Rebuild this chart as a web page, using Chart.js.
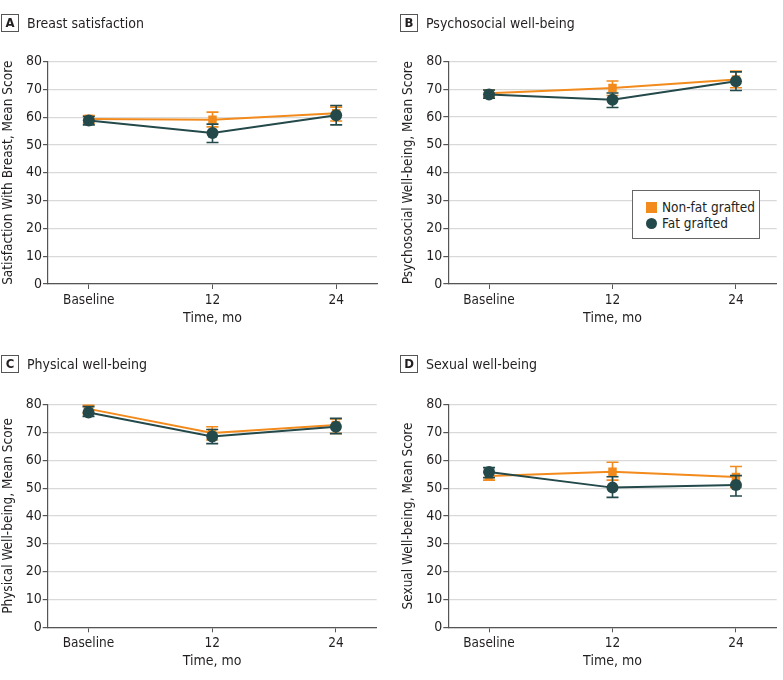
<!DOCTYPE html>
<html>
<head>
<meta charset="utf-8">
<script src="https://cdn.jsdelivr.net/npm/chart.js@4.4.1/dist/chart.umd.min.js"></script>
<style>
  body { margin: 0; background: #fff; font-family: "Liberation Sans Narrow", "DejaVu Sans Condensed", sans-serif; color: #231f20; }
  #wrap { position: relative; width: 783px; height: 680px; overflow: hidden; }
  .panel { position: absolute; }
  .panel canvas { position: absolute; left: 0; top: 0; }
  .ptitle { position: absolute; font-size: 14px; line-height: 18px; white-space: nowrap; }
  .ptitle .box { display: inline-block; width: 16px; height: 16px; border: 1px solid #555; text-align: center; font-weight: bold; font-size: 13px; line-height: 16px; margin-right: 8px; vertical-align: top; }
  #legend { position: absolute; left: 632px; top: 190px; width: 126px; height: 47px; border: 1px solid #666; background: #fff; font-size: 13.5px; }
  .leg-item { position: absolute; left: 13px; white-space: nowrap; line-height: 16px; }
  .leg-mark { display: inline-block; width: 11px; height: 11px; margin-right: 5px; vertical-align: -1px; }
</style>
</head>
<body>
<div id="wrap">
  <div class="panel" id="pA" style="left:0;top:0;width:390px;height:340px"><canvas id="cA" width="390" height="340"></canvas></div>
  <div class="panel" id="pB" style="left:390px;top:0;width:393px;height:340px"><canvas id="cB" width="393" height="340"></canvas></div>
  <div class="panel" id="pC" style="left:0;top:340px;width:390px;height:340px"><canvas id="cC" width="390" height="340"></canvas></div>
  <div class="panel" id="pD" style="left:390px;top:340px;width:393px;height:340px"><canvas id="cD" width="393" height="340"></canvas></div>
  <div class="ptitle" style="left:1px;top:14px"><span class="box">A</span>Breast satisfaction</div>
  <div class="ptitle" style="left:400px;top:14px"><span class="box">B</span>Psychosocial well-being</div>
  <div class="ptitle" style="left:1px;top:355px"><span class="box">C</span>Physical well-being</div>
  <div class="ptitle" style="left:400px;top:355px"><span class="box">D</span>Sexual well-being</div>
  <div id="legend"></div>
</div>
<script>
/* ---- DATA ---- */
const timeLabels = ['Baseline', '12', '24'];
const yTickValues = [0, 10, 20, 30, 40, 50, 60, 70, 80];
const seriesNames = ['Non-fat grafted', 'Fat grafted'];

// A  Breast satisfaction
const breastNonFat   = [59.3, 59.1, 61.4];
const breastNonFatLo = [57.8, 56.5, 58.6];
const breastNonFatHi = [60.6, 61.8, 63.6];
const breastFat      = [58.8, 54.3, 60.7];
const breastFatLo    = [57.2, 50.9, 57.2];
const breastFatHi    = [60.2, 57.5, 64.2];

// B  Psychosocial well-being
const psychNonFat   = [68.5, 70.4, 73.5];
const psychNonFatLo = [67.1, 67.7, 70.5];
const psychNonFatHi = [69.7, 72.9, 76.5];
const psychFat      = [68.1, 66.2, 72.8];
const psychFatLo    = [66.7, 63.4, 69.5];
const psychFatHi    = [69.7, 68.6, 76.2];

// C  Physical well-being
const physNonFat   = [78.5, 69.8, 72.7];
const physNonFatLo = [76.9, 67.3, 69.7];
const physNonFatHi = [79.8, 72.1, 74.9];
const physFat      = [77.2, 68.6, 72.1];
const physFatLo    = [75.8, 66.0, 69.6];
const physFatHi    = [79.3, 71.1, 75.1];

// D  Sexual well-being
const sexNonFat   = [54.4, 55.9, 54.0];
const sexNonFatLo = [52.9, 52.9, 50.3];
const sexNonFatHi = [55.7, 59.3, 57.8];
const sexFat      = [55.8, 50.2, 51.1];
const sexFatLo    = [53.8, 46.7, 47.2];
const sexFatHi    = [57.4, 54.1, 54.5];

/* ---- STYLE ---- */
const ORANGE = '#F28A1C';
const TEAL   = '#24494A';
const TEXT   = '#231f20';
const AXIS   = '#555555';
const GRID   = '#d9d9d9';
const FONT   = '"Liberation Sans Narrow", "DejaVu Sans Condensed", sans-serif';

/* ---- ERROR BARS PLUGIN ---- */
const errorBars = {
  id: 'errorBars',
  beforeDatasetDraw(chart, args) {
    const ds = chart.data.datasets[args.index];
    if (!ds.lo) return;
    const meta = args.meta;
    const ys = chart.scales.y;
    const ctx = chart.ctx;
    ctx.save();
    ctx.strokeStyle = ds.borderColor;
    ctx.lineWidth = 1.6;
    meta.data.forEach((pt, i) => {
      const x = pt.x;
      const yl = ys.getPixelForValue(ds.lo[i]);
      const yh = ys.getPixelForValue(ds.hi[i]);
      ctx.beginPath();
      ctx.moveTo(x, yl); ctx.lineTo(x, yh);
      ctx.moveTo(x - 6, yl); ctx.lineTo(x + 6, yl);
      ctx.moveTo(x - 6, yh); ctx.lineTo(x + 6, yh);
      ctx.stroke();
    });
    ctx.restore();
  }
};

function pts(arr) {
  return arr.map((v, i) => ({ x: i, y: v }));
}

function makePanel(id, yTitle, nonFat, nfLo, nfHi, fat, fLo, fHi, g) {
  return new Chart(document.getElementById(id), {
    type: 'line',
    data: {
      datasets: [
        {
          label: seriesNames[0], data: pts(nonFat), lo: nfLo, hi: nfHi,
          borderColor: ORANGE, backgroundColor: ORANGE, borderWidth: 2,
          pointStyle: 'rect', pointRadius: 6, pointBorderWidth: 0, order: 1
        },
        {
          label: seriesNames[1], data: pts(fat), lo: fLo, hi: fHi,
          borderColor: TEAL, backgroundColor: TEAL, borderWidth: 2,
          pointStyle: 'circle', pointRadius: 6, pointBorderWidth: 0, order: 0
        }
      ]
    },
    options: {
      responsive: false,
      animation: false,
      layout: { padding: { left: 0, top: g.top, right: g.right, bottom: 0 } },
      plugins: { legend: { display: false }, tooltip: { enabled: false } },
      scales: {
        x: {
          type: 'linear', min: -0.33, max: 2.33,
          afterBuildTicks: s => { s.ticks = timeLabels.map((_, i) => ({ value: i })); },
          afterFit: s => { s.height = g.xh; },
          grid: { drawOnChartArea: false, tickLength: 5, color: AXIS, tickColor: AXIS },
          border: { color: AXIS, width: 1.2 },
          ticks: { color: TEXT, font: { family: FONT, size: 13.5 }, padding: 3, callback: v => timeLabels[v] },
          title: { display: true, text: 'Time, mo', color: TEXT, font: { family: FONT, size: 14 }, padding: { top: 0, bottom: g.xtb } }
        },
        y: {
          min: 0, max: 80,
          afterBuildTicks: s => { s.ticks = yTickValues.map(v => ({ value: v })); },
          afterFit: s => { s.width = g.left; },
          grid: { color: GRID, tickLength: 5, tickColor: AXIS, lineWidth: 1.2 },
          border: { color: AXIS, width: 1.2 },
          ticks: { color: TEXT, font: { family: FONT, size: 14 }, padding: 1 },
          title: { display: true, text: yTitle, color: TEXT, font: { family: FONT, size: 13.5 }, padding: { top: g.ytp, bottom: 0 } }
        }
      }
    },
    plugins: [errorBars]
  });
}

makePanel('cA', 'Satisfaction With Breast, Mean Score',
  breastNonFat, breastNonFatLo, breastNonFatHi, breastFat, breastFatLo, breastFatHi,
  { left: 48, top: 61.5, right: 13, xh: 56, xtb: 13.6, ytp: 0.5 });
makePanel('cB', 'Psychosocial Well-being, Mean Score',
  psychNonFat, psychNonFatLo, psychNonFatHi, psychFat, psychFatLo, psychFatHi,
  { left: 58.3, top: 61.3, right: 6.3, xh: 56, xtb: 13.6, ytp: 10.5 });
makePanel('cC', 'Physical Well-being, Mean Score',
  physNonFat, physNonFatLo, physNonFatHi, physFat, physFatLo, physFatHi,
  { left: 47.7, top: 64.7, right: 13.3, xh: 52.7, xtb: 10.6, ytp: 0.5 });
makePanel('cD', 'Sexual Well-being, Mean Score',
  sexNonFat, sexNonFatLo, sexNonFatHi, sexFat, sexFatLo, sexFatHi,
  { left: 58.3, top: 64.7, right: 6.3, xh: 52.7, xtb: 10.6, ytp: 10.5 });

/* ---- LEGEND ---- */
const legendColors = [ORANGE, TEAL];
document.getElementById('legend').innerHTML = seriesNames.map((name, i) => `
  <div class="leg-item" style="top:${8 + i * 16}px">
    <span class="leg-mark" style="background:${legendColors[i]};border-radius:${i === 1 ? '50%' : '0'}"></span>${name}
  </div>`).join('');
</script>
</body>
</html>
